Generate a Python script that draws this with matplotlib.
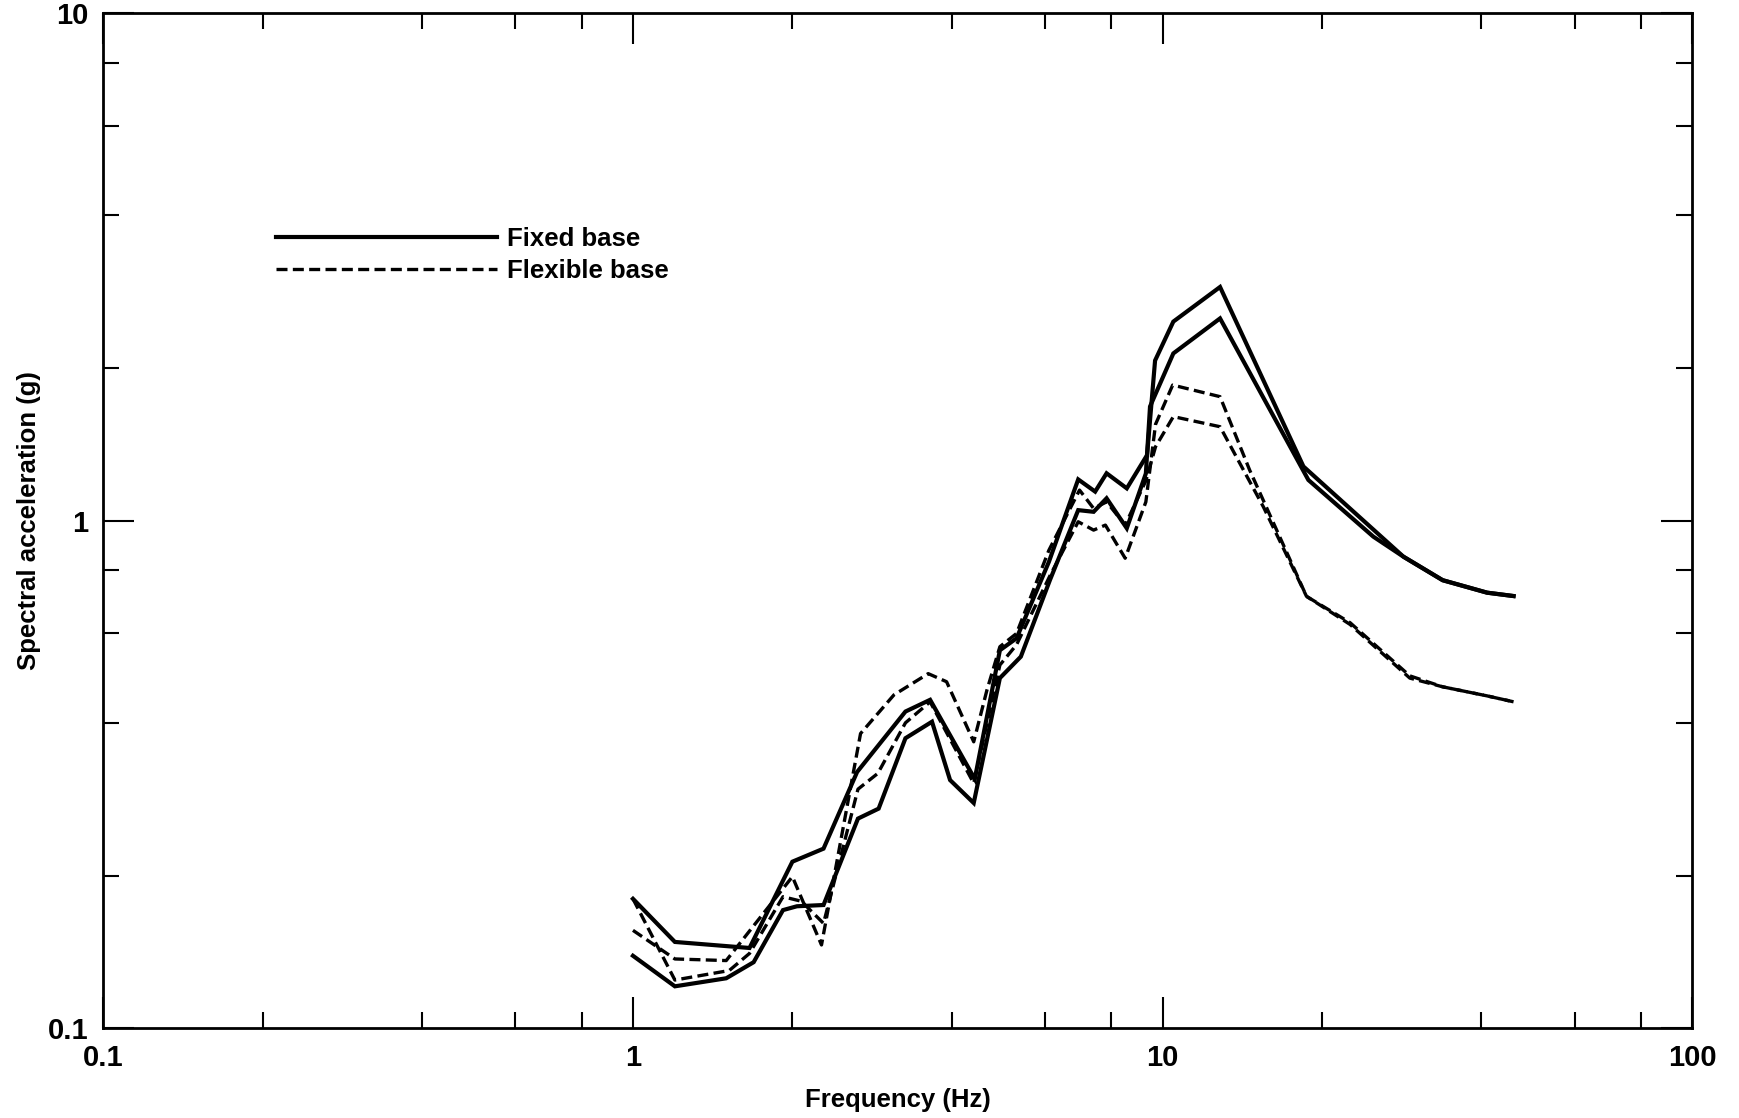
import matplotlib
matplotlib.use('Agg')
import matplotlib.pyplot as plt
from matplotlib.ticker import LogLocator, FixedFormatter, NullFormatter, FixedLocator

plt.rcParams['font.family'] = ['Liberation Sans', 'DejaVu Sans']

# Fixed base, two response curves (Hz, g)
fixed_a_f = [1.0, 1.2, 1.66, 2.0, 2.29, 2.65, 3.27, 3.64, 4.42, 4.93, 5.3, 6.1,
             6.93, 7.46, 7.84, 8.56, 9.35, 9.68, 10.48, 12.84, 18.45, 28.5,
             33.8, 41.0, 46.0]
fixed_a_v = [0.180, 0.148, 0.144, 0.213, 0.226, 0.320, 0.421, 0.444, 0.310,
             0.556, 0.587, 0.83, 1.207, 1.142, 1.241, 1.159, 1.348, 2.07, 2.47,
             2.89, 1.28, 0.85, 0.764, 0.722, 0.711]

fixed_b_f = [1.0, 1.2, 1.5, 1.69, 1.92, 2.04, 2.29, 2.66, 2.91, 3.27, 3.67,
             3.97, 4.4, 4.93, 5.4, 6.13, 6.93, 7.41, 7.84, 8.56, 9.3, 9.47,
             10.48, 12.84, 18.85, 25.0, 28.5, 33.8, 41.0, 46.0]
fixed_b_v = [0.139, 0.121, 0.1255, 0.135, 0.171, 0.174, 0.175, 0.259, 0.271,
             0.373, 0.402, 0.3085, 0.278, 0.490, 0.540, 0.765, 1.05, 1.042,
             1.108, 0.967, 1.24, 1.68, 2.138, 2.506, 1.204, 0.931, 0.85, 0.764,
             0.722, 0.711]

# Flexible base, two response curves
flex_c_f = [1.0, 1.2, 1.5, 2.0, 2.27, 2.69, 3.11, 3.61, 3.91, 4.4, 4.66, 4.93,
            5.3, 6.1, 6.97, 7.41, 7.84, 8.5, 9.3, 9.7, 10.48, 12.84, 15.5,
            18.7, 22.6, 29.3, 33.8, 41.0, 46.0]
flex_c_v = [0.156, 0.137, 0.136, 0.199, 0.146, 0.381, 0.454, 0.50, 0.482,
            0.367, 0.464, 0.565, 0.60, 0.875, 1.15, 1.058, 1.09, 0.981, 1.20,
            1.40, 1.605, 1.533, 1.066, 0.71, 0.625, 0.49, 0.471, 0.452, 0.44]

flex_d_f = [1.0, 1.2, 1.52, 1.66, 1.92, 2.08, 2.29, 2.66, 2.9, 3.27, 3.64,
            4.4, 4.93, 5.3, 6.13, 6.93, 7.41, 7.8, 8.5, 9.3, 9.7, 10.45, 12.84,
            14.6, 18.7, 22.6, 29.3, 33.8, 41.0, 46.0]
flex_d_v = [0.180, 0.1245, 0.130, 0.1405, 0.1817, 0.178, 0.161, 0.296, 0.318,
            0.40, 0.44, 0.304, 0.52, 0.57, 0.78, 0.996, 0.959, 0.981, 0.844,
            1.09, 1.55, 1.852, 1.757, 1.26, 0.71, 0.63, 0.495, 0.471, 0.452,
            0.44]

x_ticks = [0.1, 1, 10, 100]
x_tick_labels = ['0.1', '1', '10', '100']
y_ticks = [0.1, 1, 10]
y_tick_labels = ['0.1', '1', '10']

fig = plt.figure(figsize=(17.4, 11.18), dpi=100)
ax = fig.add_axes([0.0594, 0.0802, 0.9131, 0.9078])

solid = dict(color='black', lw=3.0, solid_joinstyle='miter')
dashed = dict(color='black', lw=2.4, linestyle=(0, (3.3, 1.6)))

line_fixed, = ax.plot(fixed_a_f, fixed_a_v, **solid)
ax.plot(fixed_b_f, fixed_b_v, **solid)
line_flex, = ax.plot(flex_c_f, flex_c_v, **dashed)
ax.plot(flex_d_f, flex_d_v, **dashed)

ax.set_xscale('log')
ax.set_yscale('log')
ax.set_xlim(0.1, 100)
ax.set_ylim(0.1, 10)

ax.xaxis.set_major_locator(FixedLocator(x_ticks))
ax.xaxis.set_major_formatter(FixedFormatter(x_tick_labels))
ax.yaxis.set_major_locator(FixedLocator(y_ticks))
ax.yaxis.set_major_formatter(FixedFormatter(y_tick_labels))
ax.xaxis.set_minor_locator(LogLocator(base=10, subs=[2, 4, 6, 8]))
ax.yaxis.set_minor_locator(LogLocator(base=10, subs=[2, 4, 6, 8]))
ax.xaxis.set_minor_formatter(NullFormatter())
ax.yaxis.set_minor_formatter(NullFormatter())

ax.tick_params(which='both', direction='in', top=True, right=True, width=1.5,
               labelsize=21)
ax.tick_params(which='major', length=22, pad=11)
ax.tick_params(which='minor', length=11.5)
for lbl in ax.get_xticklabels() + ax.get_yticklabels():
    lbl.set_fontweight('bold')
for s in ax.spines.values():
    s.set_linewidth(2)

ax.set_xlabel('Frequency (Hz)', fontsize=18.5, fontweight='bold', labelpad=12)
ax.set_ylabel('Spectral acceleration (g)', fontsize=18.5, fontweight='bold',
              labelpad=5)

ax.legend([line_fixed, line_flex], ['Fixed base', 'Flexible base'],
          loc='center left', bbox_to_anchor=(0.1087, 0.762), frameon=False,
          prop={'size': 18.5, 'weight': 'bold'}, handlelength=8.6,
          handletextpad=0.4, labelspacing=0.3, borderpad=0, borderaxespad=0)

fig.savefig('out.png', dpi=100)
